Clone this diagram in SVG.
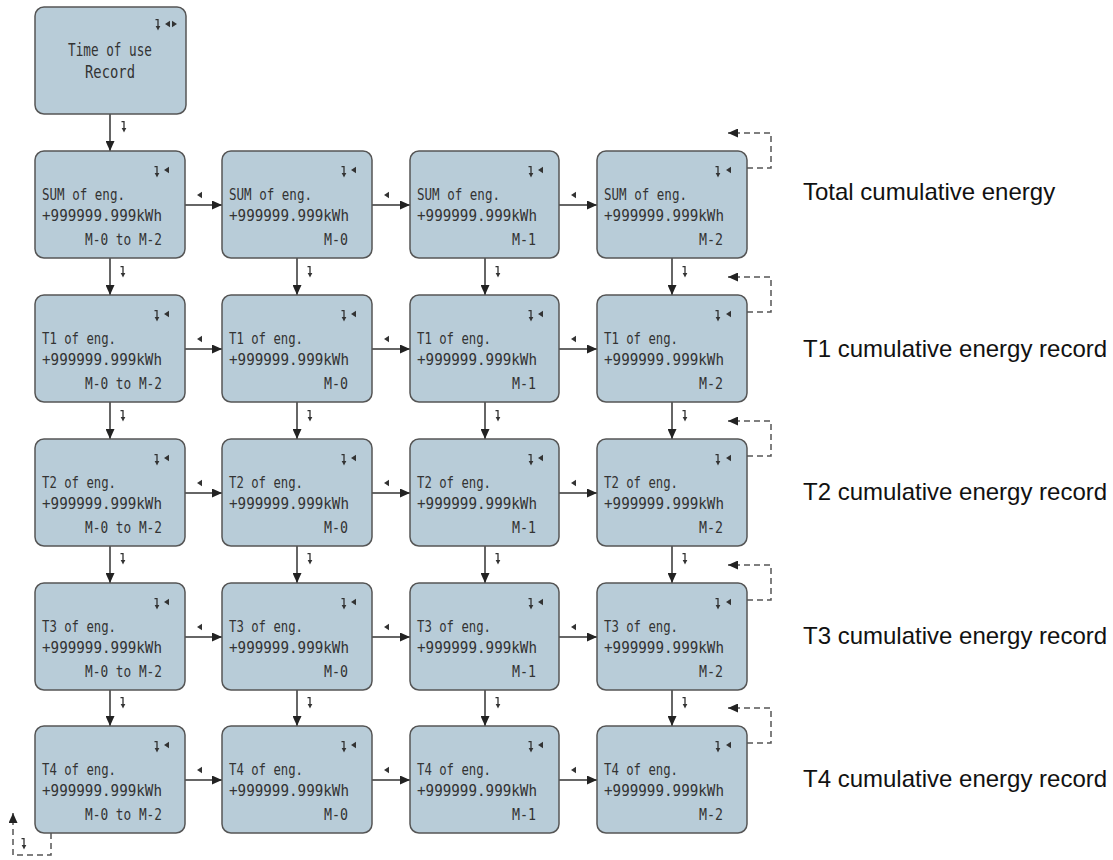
<svg xmlns="http://www.w3.org/2000/svg" width="1113" height="860" viewBox="0 0 1113 860">
<defs>
<style>
.node{fill:#b8ccd8;stroke:#555;stroke-width:1.5}
.t{font-family:"DejaVu Sans Mono","Liberation Mono",monospace;font-size:15.5px;fill:#333}
.tb{font-size:17.5px}
.lbl{font-family:"Liberation Sans",Arial,sans-serif;font-size:24px;fill:#111}
.con{fill:none;stroke:#333;stroke-width:1.5}
.dash{fill:none;stroke:#555;stroke-width:1.5;stroke-dasharray:6,4}
.ic{fill:#333}
.ics{fill:none;stroke:#333;stroke-width:1.3}
</style>
<marker id="ah" markerUnits="userSpaceOnUse" markerWidth="11" markerHeight="9" refX="10" refY="4.5" orient="auto">
<path d="M0,0 L10,4.5 L0,9 z" fill="#222"/>
</marker>
<g id="dn"><path class="ics" d="M-2.5,0.6 H0 V8"/><path class="ic" d="M-2.3,7 L2.3,7 L0,11.5 z"/></g>
<path id="lt" class="ic" d="M0,0 L5,-3.2 L5,3.2 z"/>
<path id="rt" class="ic" d="M5,0 L0,-3.2 L0,3.2 z"/>
</defs>

<g id="connectors">
<path class="con" marker-end="url(#ah)" d="M110,114 V151"/>
<path class="con" marker-end="url(#ah)" d="M110,258 V295"/>
<path class="con" marker-end="url(#ah)" d="M297,258 V295"/>
<path class="con" marker-end="url(#ah)" d="M485,258 V295"/>
<path class="con" marker-end="url(#ah)" d="M672,258 V295"/>
<path class="con" marker-end="url(#ah)" d="M110,402 V439"/>
<path class="con" marker-end="url(#ah)" d="M297,402 V439"/>
<path class="con" marker-end="url(#ah)" d="M485,402 V439"/>
<path class="con" marker-end="url(#ah)" d="M672,402 V439"/>
<path class="con" marker-end="url(#ah)" d="M110,546 V583"/>
<path class="con" marker-end="url(#ah)" d="M297,546 V583"/>
<path class="con" marker-end="url(#ah)" d="M485,546 V583"/>
<path class="con" marker-end="url(#ah)" d="M672,546 V583"/>
<path class="con" marker-end="url(#ah)" d="M110,690 V726"/>
<path class="con" marker-end="url(#ah)" d="M297,690 V726"/>
<path class="con" marker-end="url(#ah)" d="M485,690 V726"/>
<path class="con" marker-end="url(#ah)" d="M672,690 V726"/>
<path class="con" marker-end="url(#ah)" d="M185,205 H222"/>
<path class="con" marker-end="url(#ah)" d="M372,205 H410"/>
<path class="con" marker-end="url(#ah)" d="M559,205 H597"/>
<path class="con" marker-end="url(#ah)" d="M185,349 H222"/>
<path class="con" marker-end="url(#ah)" d="M372,349 H410"/>
<path class="con" marker-end="url(#ah)" d="M559,349 H597"/>
<path class="con" marker-end="url(#ah)" d="M185,493 H222"/>
<path class="con" marker-end="url(#ah)" d="M372,493 H410"/>
<path class="con" marker-end="url(#ah)" d="M559,493 H597"/>
<path class="con" marker-end="url(#ah)" d="M185,637 H222"/>
<path class="con" marker-end="url(#ah)" d="M372,637 H410"/>
<path class="con" marker-end="url(#ah)" d="M559,637 H597"/>
<path class="con" marker-end="url(#ah)" d="M185,780 H222"/>
<path class="con" marker-end="url(#ah)" d="M372,780 H410"/>
<path class="con" marker-end="url(#ah)" d="M559,780 H597"/>
<path class="dash" marker-end="url(#ah)" d="M747,168 H771 V133 H728"/>
<path class="dash" marker-end="url(#ah)" d="M747,312 H771 V277 H728"/>
<path class="dash" marker-end="url(#ah)" d="M747,456 H771 V421 H728"/>
<path class="dash" marker-end="url(#ah)" d="M747,600 H771 V565 H728"/>
<path class="dash" marker-end="url(#ah)" d="M747,743 H771 V708 H728"/>
<path class="dash" marker-end="url(#ah)" d="M51,833 V855 H13 V813"/>
<use href="#dn" x="124" y="121"/>
<use href="#dn" x="123" y="266"/><use href="#dn" x="310" y="266"/><use href="#dn" x="498" y="266"/><use href="#dn" x="685" y="266"/>
<use href="#dn" x="123" y="410"/><use href="#dn" x="310" y="410"/><use href="#dn" x="498" y="410"/><use href="#dn" x="685" y="410"/>
<use href="#dn" x="123" y="553"/><use href="#dn" x="310" y="553"/><use href="#dn" x="498" y="553"/><use href="#dn" x="685" y="553"/>
<use href="#dn" x="123" y="697"/><use href="#dn" x="310" y="697"/><use href="#dn" x="498" y="697"/><use href="#dn" x="685" y="697"/>
<use href="#dn" x="24" y="838"/>
<use href="#lt" x="197" y="195"/><use href="#lt" x="384" y="195"/><use href="#lt" x="571" y="195"/>
<use href="#lt" x="197" y="339"/><use href="#lt" x="384" y="339"/><use href="#lt" x="571" y="339"/>
<use href="#lt" x="197" y="483"/><use href="#lt" x="384" y="483"/><use href="#lt" x="571" y="483"/>
<use href="#lt" x="197" y="627"/><use href="#lt" x="384" y="627"/><use href="#lt" x="571" y="627"/>
<use href="#lt" x="197" y="770"/><use href="#lt" x="384" y="770"/><use href="#lt" x="571" y="770"/>
</g>

<g id="n-top">
<rect class="node" x="35" y="7" width="151" height="107" rx="9"/>
<use href="#dn" x="158" y="19"/><use href="#lt" x="165" y="24"/><use href="#rt" x="172" y="24"/>
<text class="t tb" x="68" y="56" textLength="84" lengthAdjust="spacingAndGlyphs">Time of use</text>
<text class="t tb" x="85" y="78" textLength="50" lengthAdjust="spacingAndGlyphs">Record</text>
</g>

<g id="n-sum-0"><rect class="node" x="35" y="151" width="150" height="107" rx="9"/><use href="#dn" x="157" y="166"/><use href="#lt" x="164" y="170"/>
<text class="t" x="42" y="200" textLength="83" lengthAdjust="spacingAndGlyphs">SUM of eng.</text>
<text class="t" x="42" y="221" textLength="120" lengthAdjust="spacingAndGlyphs">+999999.999kWh</text>
<text class="t" x="85" y="245" textLength="77" lengthAdjust="spacingAndGlyphs">M-0 to M-2</text></g>
<g id="n-sum-1"><rect class="node" x="222" y="151" width="150" height="107" rx="9"/><use href="#dn" x="344" y="166"/><use href="#lt" x="351" y="170"/>
<text class="t" x="229" y="200" textLength="83" lengthAdjust="spacingAndGlyphs">SUM of eng.</text>
<text class="t" x="229" y="221" textLength="120" lengthAdjust="spacingAndGlyphs">+999999.999kWh</text>
<text class="t" x="324" y="245" textLength="24" lengthAdjust="spacingAndGlyphs">M-0</text></g>
<g id="n-sum-2"><rect class="node" x="410" y="151" width="149" height="107" rx="9"/><use href="#dn" x="531" y="166"/><use href="#lt" x="538" y="170"/>
<text class="t" x="417" y="200" textLength="83" lengthAdjust="spacingAndGlyphs">SUM of eng.</text>
<text class="t" x="417" y="221" textLength="120" lengthAdjust="spacingAndGlyphs">+999999.999kWh</text>
<text class="t" x="512" y="245" textLength="24" lengthAdjust="spacingAndGlyphs">M-1</text></g>
<g id="n-sum-3"><rect class="node" x="597" y="151" width="150" height="107" rx="9"/><use href="#dn" x="718" y="166"/><use href="#lt" x="726" y="170"/>
<text class="t" x="604" y="200" textLength="83" lengthAdjust="spacingAndGlyphs">SUM of eng.</text>
<text class="t" x="604" y="221" textLength="120" lengthAdjust="spacingAndGlyphs">+999999.999kWh</text>
<text class="t" x="699" y="245" textLength="24" lengthAdjust="spacingAndGlyphs">M-2</text></g>

<g id="n-t1-0"><rect class="node" x="35" y="295" width="150" height="107" rx="9"/><use href="#dn" x="157" y="310"/><use href="#lt" x="164" y="314"/>
<text class="t" x="42" y="344" textLength="74" lengthAdjust="spacingAndGlyphs">T1 of eng.</text>
<text class="t" x="42" y="365" textLength="120" lengthAdjust="spacingAndGlyphs">+999999.999kWh</text>
<text class="t" x="85" y="389" textLength="77" lengthAdjust="spacingAndGlyphs">M-0 to M-2</text></g>
<g id="n-t1-1"><rect class="node" x="222" y="295" width="150" height="107" rx="9"/><use href="#dn" x="344" y="310"/><use href="#lt" x="351" y="314"/>
<text class="t" x="229" y="344" textLength="74" lengthAdjust="spacingAndGlyphs">T1 of eng.</text>
<text class="t" x="229" y="365" textLength="120" lengthAdjust="spacingAndGlyphs">+999999.999kWh</text>
<text class="t" x="324" y="389" textLength="24" lengthAdjust="spacingAndGlyphs">M-0</text></g>
<g id="n-t1-2"><rect class="node" x="410" y="295" width="149" height="107" rx="9"/><use href="#dn" x="531" y="310"/><use href="#lt" x="538" y="314"/>
<text class="t" x="417" y="344" textLength="74" lengthAdjust="spacingAndGlyphs">T1 of eng.</text>
<text class="t" x="417" y="365" textLength="120" lengthAdjust="spacingAndGlyphs">+999999.999kWh</text>
<text class="t" x="512" y="389" textLength="24" lengthAdjust="spacingAndGlyphs">M-1</text></g>
<g id="n-t1-3"><rect class="node" x="597" y="295" width="150" height="107" rx="9"/><use href="#dn" x="718" y="310"/><use href="#lt" x="726" y="314"/>
<text class="t" x="604" y="344" textLength="74" lengthAdjust="spacingAndGlyphs">T1 of eng.</text>
<text class="t" x="604" y="365" textLength="120" lengthAdjust="spacingAndGlyphs">+999999.999kWh</text>
<text class="t" x="699" y="389" textLength="24" lengthAdjust="spacingAndGlyphs">M-2</text></g>

<g id="n-t2-0"><rect class="node" x="35" y="439" width="150" height="107" rx="9"/><use href="#dn" x="157" y="454"/><use href="#lt" x="164" y="458"/>
<text class="t" x="42" y="488" textLength="74" lengthAdjust="spacingAndGlyphs">T2 of eng.</text>
<text class="t" x="42" y="509" textLength="120" lengthAdjust="spacingAndGlyphs">+999999.999kWh</text>
<text class="t" x="85" y="533" textLength="77" lengthAdjust="spacingAndGlyphs">M-0 to M-2</text></g>
<g id="n-t2-1"><rect class="node" x="222" y="439" width="150" height="107" rx="9"/><use href="#dn" x="344" y="454"/><use href="#lt" x="351" y="458"/>
<text class="t" x="229" y="488" textLength="74" lengthAdjust="spacingAndGlyphs">T2 of eng.</text>
<text class="t" x="229" y="509" textLength="120" lengthAdjust="spacingAndGlyphs">+999999.999kWh</text>
<text class="t" x="324" y="533" textLength="24" lengthAdjust="spacingAndGlyphs">M-0</text></g>
<g id="n-t2-2"><rect class="node" x="410" y="439" width="149" height="107" rx="9"/><use href="#dn" x="531" y="454"/><use href="#lt" x="538" y="458"/>
<text class="t" x="417" y="488" textLength="74" lengthAdjust="spacingAndGlyphs">T2 of eng.</text>
<text class="t" x="417" y="509" textLength="120" lengthAdjust="spacingAndGlyphs">+999999.999kWh</text>
<text class="t" x="512" y="533" textLength="24" lengthAdjust="spacingAndGlyphs">M-1</text></g>
<g id="n-t2-3"><rect class="node" x="597" y="439" width="150" height="107" rx="9"/><use href="#dn" x="718" y="454"/><use href="#lt" x="726" y="458"/>
<text class="t" x="604" y="488" textLength="74" lengthAdjust="spacingAndGlyphs">T2 of eng.</text>
<text class="t" x="604" y="509" textLength="120" lengthAdjust="spacingAndGlyphs">+999999.999kWh</text>
<text class="t" x="699" y="533" textLength="24" lengthAdjust="spacingAndGlyphs">M-2</text></g>

<g id="n-t3-0"><rect class="node" x="35" y="583" width="150" height="107" rx="9"/><use href="#dn" x="157" y="598"/><use href="#lt" x="164" y="602"/>
<text class="t" x="42" y="632" textLength="74" lengthAdjust="spacingAndGlyphs">T3 of eng.</text>
<text class="t" x="42" y="653" textLength="120" lengthAdjust="spacingAndGlyphs">+999999.999kWh</text>
<text class="t" x="85" y="677" textLength="77" lengthAdjust="spacingAndGlyphs">M-0 to M-2</text></g>
<g id="n-t3-1"><rect class="node" x="222" y="583" width="150" height="107" rx="9"/><use href="#dn" x="344" y="598"/><use href="#lt" x="351" y="602"/>
<text class="t" x="229" y="632" textLength="74" lengthAdjust="spacingAndGlyphs">T3 of eng.</text>
<text class="t" x="229" y="653" textLength="120" lengthAdjust="spacingAndGlyphs">+999999.999kWh</text>
<text class="t" x="324" y="677" textLength="24" lengthAdjust="spacingAndGlyphs">M-0</text></g>
<g id="n-t3-2"><rect class="node" x="410" y="583" width="149" height="107" rx="9"/><use href="#dn" x="531" y="598"/><use href="#lt" x="538" y="602"/>
<text class="t" x="417" y="632" textLength="74" lengthAdjust="spacingAndGlyphs">T3 of eng.</text>
<text class="t" x="417" y="653" textLength="120" lengthAdjust="spacingAndGlyphs">+999999.999kWh</text>
<text class="t" x="512" y="677" textLength="24" lengthAdjust="spacingAndGlyphs">M-1</text></g>
<g id="n-t3-3"><rect class="node" x="597" y="583" width="150" height="107" rx="9"/><use href="#dn" x="718" y="598"/><use href="#lt" x="726" y="602"/>
<text class="t" x="604" y="632" textLength="74" lengthAdjust="spacingAndGlyphs">T3 of eng.</text>
<text class="t" x="604" y="653" textLength="120" lengthAdjust="spacingAndGlyphs">+999999.999kWh</text>
<text class="t" x="699" y="677" textLength="24" lengthAdjust="spacingAndGlyphs">M-2</text></g>

<g id="n-t4-0"><rect class="node" x="35" y="726" width="150" height="107" rx="9"/><use href="#dn" x="157" y="741"/><use href="#lt" x="164" y="745"/>
<text class="t" x="42" y="775" textLength="74" lengthAdjust="spacingAndGlyphs">T4 of eng.</text>
<text class="t" x="42" y="796" textLength="120" lengthAdjust="spacingAndGlyphs">+999999.999kWh</text>
<text class="t" x="85" y="820" textLength="77" lengthAdjust="spacingAndGlyphs">M-0 to M-2</text></g>
<g id="n-t4-1"><rect class="node" x="222" y="726" width="150" height="107" rx="9"/><use href="#dn" x="344" y="741"/><use href="#lt" x="351" y="745"/>
<text class="t" x="229" y="775" textLength="74" lengthAdjust="spacingAndGlyphs">T4 of eng.</text>
<text class="t" x="229" y="796" textLength="120" lengthAdjust="spacingAndGlyphs">+999999.999kWh</text>
<text class="t" x="324" y="820" textLength="24" lengthAdjust="spacingAndGlyphs">M-0</text></g>
<g id="n-t4-2"><rect class="node" x="410" y="726" width="149" height="107" rx="9"/><use href="#dn" x="531" y="741"/><use href="#lt" x="538" y="745"/>
<text class="t" x="417" y="775" textLength="74" lengthAdjust="spacingAndGlyphs">T4 of eng.</text>
<text class="t" x="417" y="796" textLength="120" lengthAdjust="spacingAndGlyphs">+999999.999kWh</text>
<text class="t" x="512" y="820" textLength="24" lengthAdjust="spacingAndGlyphs">M-1</text></g>
<g id="n-t4-3"><rect class="node" x="597" y="726" width="150" height="107" rx="9"/><use href="#dn" x="718" y="741"/><use href="#lt" x="726" y="745"/>
<text class="t" x="604" y="775" textLength="74" lengthAdjust="spacingAndGlyphs">T4 of eng.</text>
<text class="t" x="604" y="796" textLength="120" lengthAdjust="spacingAndGlyphs">+999999.999kWh</text>
<text class="t" x="699" y="820" textLength="24" lengthAdjust="spacingAndGlyphs">M-2</text></g>

<g id="labels">
<text class="lbl" x="803" y="200">Total cumulative energy</text>
<text class="lbl" x="803" y="357">T1 cumulative energy record</text>
<text class="lbl" x="803" y="500">T2 cumulative energy record</text>
<text class="lbl" x="803" y="644">T3 cumulative energy record</text>
<text class="lbl" x="803" y="787">T4 cumulative energy record</text>
</g>
</svg>
